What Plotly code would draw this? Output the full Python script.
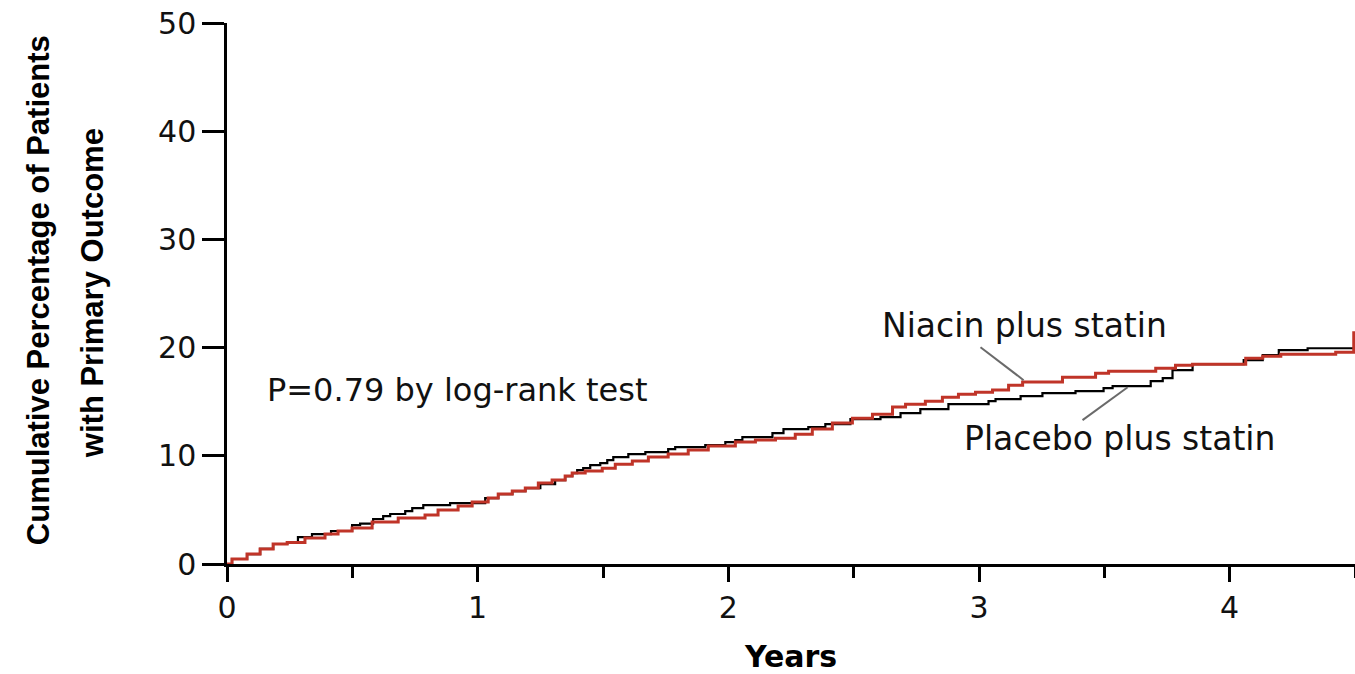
import plotly.graph_objects as go

# Kaplan-Meier style cumulative incidence (step changes), years vs percent
placebo_years = [0, 0.020, 0.080, 0.132, 0.184, 0.240, 0.283, 0.339, 0.415, 0.499, 0.531,
                 0.583, 0.623, 0.651, 0.711, 0.739, 0.783, 0.890, 0.982, 1.030, 1.082,
                 1.138, 1.190, 1.250, 1.309, 1.349, 1.377, 1.397, 1.421, 1.449, 1.489,
                 1.517, 1.541, 1.601, 1.669, 1.760, 1.788, 1.908, 1.988, 2.028, 2.056,
                 2.176, 2.220, 2.319, 2.387, 2.487, 2.607, 2.687, 2.766, 2.878, 3.038,
                 3.066, 3.166, 3.253, 3.385, 3.497, 3.533, 3.685, 3.733, 3.772, 3.852,
                 4.056, 4.132, 4.196, 4.311, 4.499]
placebo_pct = [0, 0.46, 0.92, 1.39, 1.85, 2.03, 2.49, 2.77, 3.05, 3.60, 3.74,
               4.16, 4.43, 4.62, 4.89, 5.17, 5.45, 5.63, 5.63, 6.09, 6.46,
               6.74, 7.02, 7.39, 7.76, 8.13, 8.40, 8.68, 8.86, 9.14, 9.33,
               9.60, 9.88, 10.16, 10.34, 10.62, 10.80, 10.99, 11.27, 11.45, 11.73,
               12.10, 12.47, 12.65, 12.93, 13.39, 13.57, 13.94, 14.31, 14.77, 15.05,
               15.24, 15.51, 15.79, 15.97, 16.25, 16.44, 16.90, 17.17, 17.91, 18.47,
               18.84, 19.30, 19.76, 19.94, 19.94]

niacin_years = [0, 0.020, 0.080, 0.132, 0.184, 0.240, 0.311, 0.391, 0.443, 0.499, 0.579,
                0.683, 0.790, 0.842, 0.922, 0.978, 1.042, 1.082, 1.138, 1.190, 1.242,
                1.297, 1.349, 1.377, 1.429, 1.497, 1.549, 1.617, 1.681, 1.760, 1.840,
                1.920, 2.028, 2.108, 2.188, 2.267, 2.335, 2.415, 2.495, 2.575, 2.655,
                2.707, 2.786, 2.854, 2.918, 2.986, 3.054, 3.118, 3.174, 3.333, 3.465,
                3.517, 3.705, 3.784, 3.852, 4.064, 4.132, 4.204, 4.423, 4.495]
niacin_pct = [0, 0.46, 0.92, 1.39, 1.85, 1.99, 2.40, 2.77, 3.05, 3.32, 3.88,
              4.25, 4.52, 4.99, 5.36, 5.72, 6.09, 6.46, 6.74, 7.02, 7.48,
              7.76, 8.13, 8.40, 8.59, 8.86, 9.23, 9.51, 9.88, 10.16, 10.53,
              10.90, 11.27, 11.45, 11.63, 12.00, 12.47, 13.02, 13.48, 13.85, 14.50,
              14.77, 15.05, 15.42, 15.70, 15.88, 16.07, 16.53, 16.81, 17.27, 17.64,
              17.82, 18.10, 18.38, 18.47, 19.02, 19.21, 19.39, 19.58, 21.51]

x_ticks = [0, 1, 2, 3, 4]
y_ticks = [0, 10, 20, 30, 40, 50]

p_value_text = "P=0.79 by log-rank test"
niacin_label = "Niacin plus statin"
placebo_label = "Placebo plus statin"

# callout leader lines: (x0, y0, x1, y1) in data units
niacin_leader = (3.006, 20.04, 3.178, 16.99)
placebo_leader = (3.593, 16.34, 3.413, 13.30)

RED = "rgb(192,52,40)"
TXT = "DejaVu Sans"

fig = go.Figure()
fig.add_trace(go.Scatter(x=placebo_years, y=placebo_pct, mode="lines",
                         line=dict(color="black", width=2.2, shape="hv"),
                         name=placebo_label, showlegend=False, hoverinfo="skip"))
fig.add_trace(go.Scatter(x=niacin_years, y=niacin_pct, mode="lines",
                         line=dict(color=RED, width=3, shape="hv"),
                         name=niacin_label, showlegend=False, hoverinfo="skip"))

for (x0, y0, x1, y1) in (niacin_leader, placebo_leader):
    fig.add_shape(type="line", x0=x0, y0=y0, x1=x1, y1=y1, xref="x", yref="y",
                  line=dict(color="#6a6a6a", width=2))

fig.add_annotation(x=0.152, y=16.07, xref="x", yref="y", text=p_value_text,
                   showarrow=False, xanchor="left", yanchor="middle",
                   font=dict(family=TXT, size=32, color="#111"))
fig.add_annotation(x=2.607, y=22.07, xref="x", yref="y", text=niacin_label,
                   showarrow=False, xanchor="left", yanchor="middle",
                   font=dict(family=TXT, size=33, color="#111"))
fig.add_annotation(x=2.934, y=11.63, xref="x", yref="y", text=placebo_label,
                   showarrow=False, xanchor="left", yanchor="middle",
                   font=dict(family=TXT, size=33, color="#111"))

# axis titles
L, T, PW, PH = 227, 22.7, 1128, 541.3
def px_x(p):
    return (p - L) / PW
def px_y(p):
    return (T + PH - p) / PH

fig.add_annotation(x=px_x(790), y=px_y(657), xref="paper", yref="paper", text="<b>Years</b>",
                   showarrow=False, xanchor="center", yanchor="middle",
                   font=dict(family=TXT, size=30, color="black"))
title_font = dict(family="Liberation Sans", size=31, color="black")
fig.add_annotation(x=px_x(38), y=px_y(290), xref="paper", yref="paper",
                   text="<b>Cumulative Percentage of Patients</b>", textangle=-90,
                   showarrow=False, xanchor="center", yanchor="middle", font=title_font)
fig.add_annotation(x=px_x(92), y=px_y(293), xref="paper", yref="paper",
                   text="<b>with Primary Outcome</b>", textangle=-90,
                   showarrow=False, xanchor="center", yanchor="middle", font=title_font)

fig.update_xaxes(range=[0, 4.5], tickvals=x_ticks, ticks="outside", ticklen=15, tickwidth=2.5,
                 tickcolor="black", showline=True, linecolor="black", linewidth=2.5,
                 showgrid=False, zeroline=False, ticklabelstandoff=0,
                 tickfont=dict(family=TXT, size=30, color="#111"),
                 minor=dict(dtick=0.5, tick0=0, ticks="outside", ticklen=11, tickwidth=2.5,
                            tickcolor="black", showgrid=False))
fig.update_yaxes(range=[0, 50], tickvals=y_ticks, ticks="outside", ticklen=22, tickwidth=2.5,
                 tickcolor="black", showline=True, linecolor="black", linewidth=2.5,
                 showgrid=False, zeroline=False, ticklabelstandoff=0,
                 tickfont=dict(family=TXT, size=30, color="#111"))

fig.update_layout(width=1355, height=674, plot_bgcolor="white", paper_bgcolor="white",
                  margin=dict(l=L, r=0, t=T, b=674 - T - PH))

fig.write_html("out.html")
